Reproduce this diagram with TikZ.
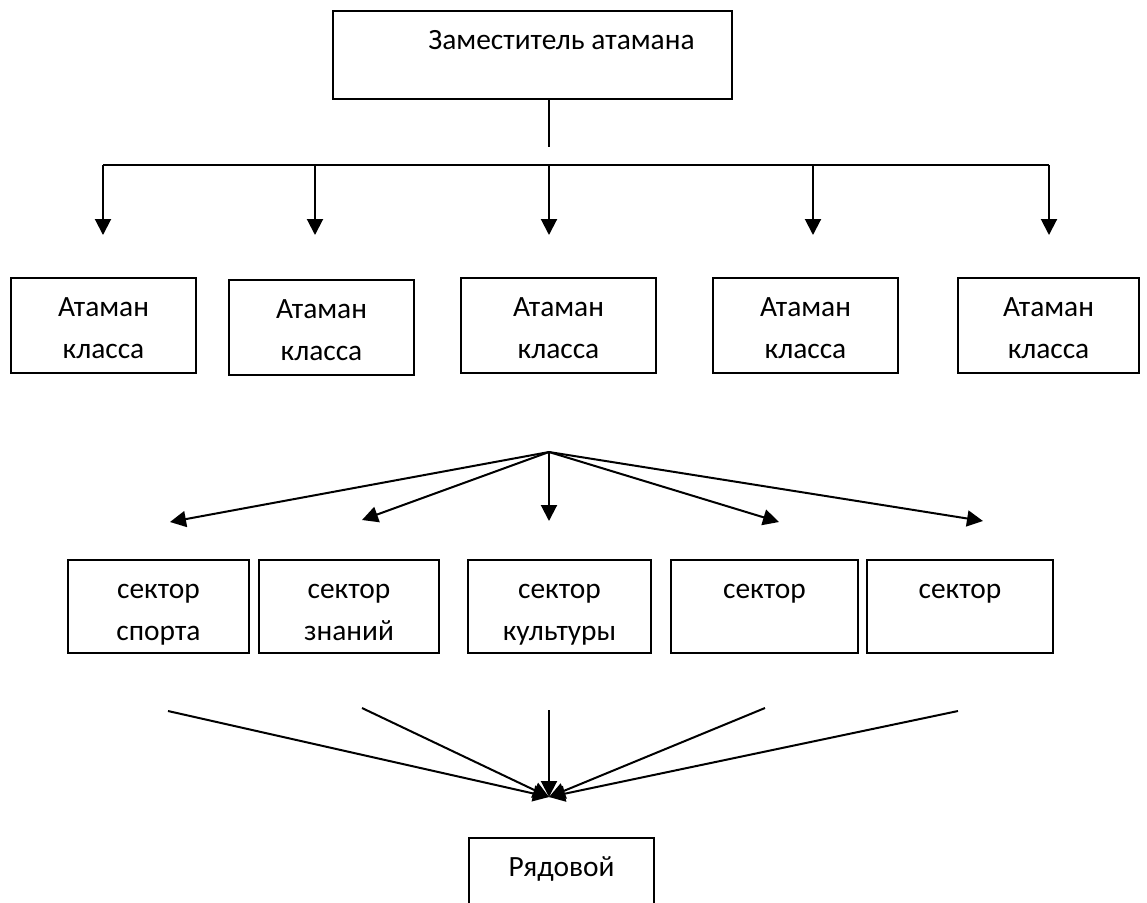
\documentclass[tikz,border=0pt]{standalone}
\usepackage{fontspec}
\setmainfont{Carlito}
\usetikzlibrary{arrows.meta}

\tikzset{
  box/.style 2 args={draw,line width=1pt,align=center,inner ysep=0pt,
    text height=#1,text depth=#2,anchor=north west,
    font=\fontsize{14.7pt}{21pt}\selectfont},
}

\begin{document}
\begin{tikzpicture}[x=0.5pt,y=-0.5pt,line width=1pt,>={Triangle[width=8pt,length=8pt]}]
\clip (0,0) rectangle (1147,902);

\node (dep) [box={19pt}{25pt},minimum width=199.5pt] at (332,10) {\hspace*{29pt}Заместитель атамана};

% atamany klassov
\node (a1) [box={40pt}{7.5pt},minimum width=92.5pt] at (10,277) {Атаман\\класса};
\node (a2) [box={40pt}{7.5pt},minimum width=92.5pt] at (228,279) {Атаман\\класса};
\node (a3) [box={40pt}{7.5pt},minimum width=97.5pt] at (460,277) {Атаман\\класса};
\node (a4) [box={40pt}{7.5pt},minimum width=92.5pt] at (712,277) {Атаман\\класса};
\node (a5) [box={40pt}{7.5pt},minimum width=90.5pt] at (957,277) {Атаман\\класса};

% sektory
\node (s1) [box={40pt}{6.5pt},minimum width=90.5pt] at (67,559) {сектор\\спорта};
\node (s2) [box={40pt}{6.5pt},minimum width=90pt] at (258,559) {сектор\\знаний};
\node (s3) [box={40pt}{6.5pt},minimum width=91.5pt] at (467,559) {сектор\\культуры};
\node (s4) [box={19pt}{27.5pt},minimum width=93.5pt] at (670,559) {сектор};
\node (s5) [box={19pt}{27.5pt},minimum width=93pt] at (866,559) {сектор};

\node (ryad) [box={19pt}{41pt},minimum width=92.5pt] at (468,837) {Рядовой};

\coordinate (stem) at (549,147);
\coordinate (bar) at (549,165);
\coordinate (hub) at (549,452);
\coordinate (sink) at (549,797);

\draw (stem |- dep.south) -- (stem);
\foreach \x [count=\i] in {103,315,549,813,1049} {
  \coordinate (t\i) at (\x,235);
  \draw[->] (t\i |- bar) -- (t\i);
}
\draw (t1 |- bar) -- (t5 |- bar);

\foreach \x/\y [count=\i] in {170/522,362/520,549/521,779/522,983/521} {
  \coordinate (f\i) at (\x,\y);
  \draw[->] (hub) -- (f\i);
}

\foreach \x/\y [count=\i] in {168/711,362/708,549/710,765/708,958/711} {
  \coordinate (g\i) at (\x,\y);
  \draw[->] (g\i) -- (sink);
}
\end{tikzpicture}
\end{document}
